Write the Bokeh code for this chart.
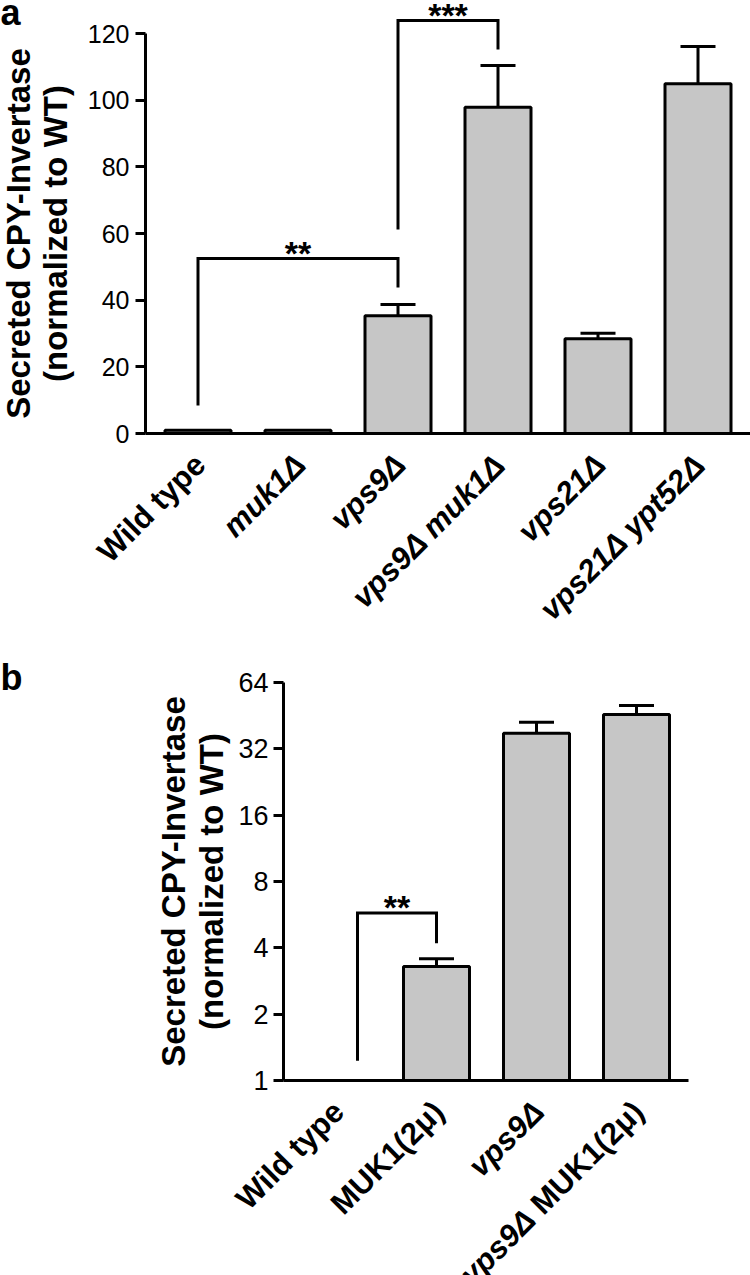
import math
from bokeh.plotting import figure
from bokeh.models import Range1d, FixedTicker, Label, BasicTickFormatter, ColumnDataSource
from bokeh.layouts import column
from bokeh.embed import file_html
from bokeh.resources import INLINE

# ---------------- data: panel a ----------------
cats_a = ["Wild type", "muk1Δ", "vps9Δ", "vps9Δ muk1Δ", "vps21Δ", "vps21Δ ypt52Δ"]
styles_a = ["bold", "bold italic", "bold italic", "bold italic", "bold italic", "bold italic"]
means_a = [1.0, 1.0, 35.3, 97.9, 28.4, 104.9]
err_a = [0.0, 0.0, 3.4, 12.5, 1.7, 11.2]
yticks_a = [0, 20, 40, 60, 80, 100, 120]
# significance brackets: left x, right x, left-leg bottom, top, right-leg bottom, text
sig_a = [(0, 2, 8.4, 52.5, 43.8, "**"), (2, 3, 61.2, 123.9, 115.2, "***")]

# ---------------- data: panel b ----------------
cats_b = ["Wild type", "MUK1(2μ)", "vps9Δ", "vps9Δ MUK1(2μ)"]
styles_b = ["bold", "bold", "bold italic", "mixed"]
means_b = [1.0, 3.29, 37.7, 45.8]
err_b = [0.0, 0.28, 4.6, 4.5]
yticks_b = [1, 2, 4, 8, 16, 32, 64]
sig_b = [(0.21, 1, 1.23, 5.75, 4.2, "**")]

ylabel_1 = "Secreted CPY-Invertase"
ylabel_2 = "(normalized to WT)"

FONT = "Liberation Sans"
GREY = "#c6c6c6"
LW = 3
BAR_W = 0.66
CAP_W = 0.35
W = 750
PX_PER_CAT = 100.0
XLAB_SIZE = 31
YLAB_SIZE = "33px"
STAR_SIZE = "34px"


def base_fig(height, xr, yr, ytype, yaxis_x, xaxis_y, ybounds, xbounds):
    p = figure(width=W, height=height, x_range=xr, y_range=yr, y_axis_type=ytype,
               output_backend="svg", toolbar_location=None,
               min_border_left=0, min_border_right=0, min_border_top=0, min_border_bottom=0)
    p.grid.visible = False
    p.outline_line_color = None
    p.background_fill_color = "white"
    p.border_fill_color = "white"
    xa = p.xaxis[0]
    xa.fixed_location = xaxis_y
    xa.bounds = xbounds
    xa.ticker = FixedTicker(ticks=[])
    xa.axis_line_width = LW
    xa.axis_line_color = "black"
    xa.major_tick_line_color = None
    xa.minor_tick_line_color = None
    xa.major_label_text_font_size = "0px"
    ya = p.yaxis[0]
    ya.fixed_location = yaxis_x
    ya.bounds = ybounds
    ya.axis_line_width = LW
    ya.axis_line_color = "black"
    ya.major_tick_line_width = LW
    ya.major_tick_line_color = "black"
    ya.major_tick_out = 10
    ya.major_tick_in = 0
    ya.minor_tick_line_color = None
    ya.major_label_text_font = FONT
    ya.major_label_text_color = "black"
    return p


def draw_bars(p, cats, means, errs, base):
    xs = list(range(len(cats)))
    src = ColumnDataSource(dict(x=xs, top=means, bottom=[base] * len(xs)))
    p.vbar(x="x", top="top", bottom="bottom", width=BAR_W, source=src,
           fill_color=GREY, line_color="black", line_width=LW)
    ex = [x for x, e in zip(xs, errs) if e > 0]
    em = [m for m, e in zip(means, errs) if e > 0]
    eu = [m + e for m, e in zip(means, errs) if e > 0]
    esrc = ColumnDataSource(dict(x=ex, m=em, u=eu,
                                 xl=[x - CAP_W / 2 for x in ex], xr=[x + CAP_W / 2 for x in ex]))
    p.segment(x0="x", y0="m", x1="x", y1="u", source=esrc, line_color="black", line_width=LW)
    p.segment(x0="xl", y0="u", x1="xr", y1="u", source=esrc, line_color="black", line_width=LW)


def draw_sig(p, sigs):
    for (x0, x1, b0, t, b1, txt) in sigs:
        p.multi_line(xs=[[x0, x0, x1, x1]], ys=[[b0, t, t, b1]], line_color="black",
                     line_width=LW, line_join="miter")
        p.add_layout(Label(x=(x0 + x1) / 2, y=t, y_offset=6, text=txt, text_align="center",
                           text_baseline="middle", text_font=FONT, text_font_style="bold",
                           text_font_size=STAR_SIZE, text_color="black"))


def xlabels(p, cats, styles, ybase):
    size = "%dpx" % XLAB_SIZE
    for i, (c, s) in enumerate(zip(cats, styles)):
        common = dict(y=ybase, angle=math.pi / 4, text_align="right", text_baseline="middle",
                      text_font=FONT, text_font_size=size, text_color="black")
        if s == "mixed":
            first, second = c.split(" ", 1)
            p.add_layout(Label(x=i, x_offset=2, y_offset=-26, text=second,
                               text_font_style="bold", **common))
            # width of " MUK1(2μ)" in Liberation Sans Bold (em units 4.944)
            shift = 4.944 * XLAB_SIZE
            p.add_layout(Label(x=i, x_offset=2 - shift * 0.7071, y_offset=-26 - shift * 0.7071,
                               text=first, text_font_style="bold italic", **common))
        else:
            p.add_layout(Label(x=i, x_offset=2, y_offset=-26, text=c,
                               text_font_style=s, **common))


def ylabels(p, x0, ymid, off1, off2):
    for txt, off in ((ylabel_1, off1), (ylabel_2, off2)):
        p.add_layout(Label(x=x0, y=ymid, x_offset=off, text=txt, angle=math.pi / 2,
                           text_align="center", text_baseline="middle", text_font=FONT,
                           text_font_style="bold", text_font_size=YLAB_SIZE, text_color="black"))


def panel_letter(p, x, y, yoff, txt):
    p.add_layout(Label(x=x, y=y, y_offset=yoff, text=txt, text_font=FONT,
                       text_font_style="bold", text_font_size="36px", text_align="left",
                       text_baseline="middle", text_color="black"))


# ---------------- panel a (page geometry: y-axis at x=145, 0 at y=433, 120 at y=33) ----------------
HA = 630
ppu_a = 400.0 / 120.0
xa_axis = -0.525                      # y-axis location (data units of x)
xa_start = xa_axis - 145 / PX_PER_CAT
xa_end = xa_start + W / PX_PER_CAT
ya_end = 433 / ppu_a
ya_start = -(HA - 433) / ppu_a
pa = base_fig(HA, Range1d(xa_start, xa_end), Range1d(ya_start, ya_end), "linear",
              xa_axis, 0, (0, 120), (xa_axis, xa_end))
pa.yaxis.ticker = FixedTicker(ticks=yticks_a)
pa.yaxis.major_label_text_font_size = "25px"
pa.yaxis.major_label_standoff = 6
draw_bars(pa, cats_a, means_a, err_a, 0)
draw_sig(pa, sig_a)
xlabels(pa, cats_a, styles_a, 0)
ylabels(pa, xa_axis, 60, -127, -90)
panel_letter(pa, xa_start, ya_end, -12, "a")

# ---------------- panel b (page y offset 630; y-axis at x=283, 64 at y=682, 1 at y=1080) ----------------
HB = 1275 - HA
ppd_b = (1080 - 682) / 6.0           # px per doubling
top_b = 682 - HA                      # 64 position within figure
one_b = 1080 - HA                     # 1 position within figure
xb_axis = -0.53
xb_start = xb_axis - 283 / PX_PER_CAT
xb_end = xb_start + W / PX_PER_CAT
yb_end = 64 * 2 ** (top_b / ppd_b)
yb_start = 2 ** (-(HB - one_b) / ppd_b)
pb = base_fig(HB, Range1d(xb_start, xb_end), Range1d(yb_start, yb_end), "log",
              xb_axis, 1, (1, 64), (xb_axis, xb_axis + 4.05))
pb.yaxis.ticker = FixedTicker(ticks=yticks_b)
pb.yaxis.formatter = BasicTickFormatter(use_scientific=False)
pb.yaxis.major_label_text_font_size = "27px"
pb.yaxis.major_label_standoff = 5
draw_bars(pb, cats_b, means_b, err_b, 1)
draw_sig(pb, sig_b)
xlabels(pb, cats_b, styles_b, 1)
ylabels(pb, xb_axis, 8, -110, -72)
panel_letter(pb, xb_start, yb_end, -(677 - HA), "b")

layout = column(pa, pb)
open("out.html", "w").write(file_html(layout, INLINE))
